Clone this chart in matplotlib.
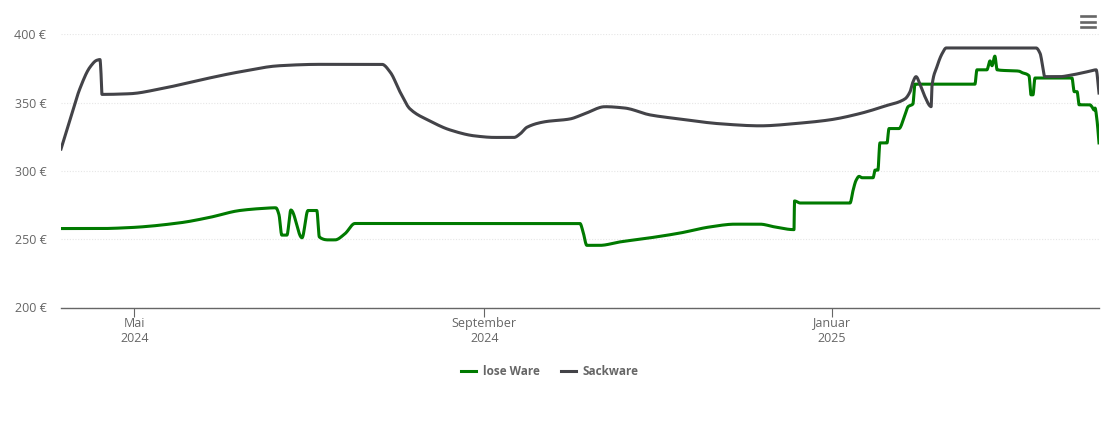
# -*- coding: utf-8 -*-
import numpy as np
import pandas as pd
import matplotlib
matplotlib.use('Agg')
import matplotlib.pyplot as plt
from matplotlib.lines import Line2D

plt.rcParams['font.family'] = ['Open Sans', 'DejaVu Sans']

# days after 2024-05-01
daysLose = [-25.8, -12, -1.6, 16, 26.5, 37, 44.8, 49.7, 50.8, 51.8, 53.6, 55, 58.9, 61, 64.1, 65, 68,
            70.5, 74, 77.5, 156.6, 157.6, 159, 163.6, 170.6, 181.2, 191.7, 202.3, 211, 219.9, 225,
            231.8, 232, 234, 251.5, 252.6, 253.6, 254.7, 255.7, 259.6, 260.3, 261.3, 262, 264.5,
            265.2, 268.7, 270.8, 271.9, 273.6, 274.3, 295.4, 296.1, 299.6, 300.7, 301.4, 302.4,
            303.2, 310.9, 311.9, 314.4, 315.1, 315.8, 316.5, 329.5, 330.3, 331.3, 332, 335.8,
            336.5, 337.3, 337.6, 338.3, 339]
valsLose = [257.8, 257.8, 258.5, 262, 266, 271, 272.5, 273, 268, 253, 253, 271.4, 251, 271, 271, 251.6,
            249.5, 249.5, 254, 261.5, 261.5, 256, 245.5, 245.5, 248, 251, 254.5, 259, 261, 261, 259,
            257, 278, 276.5, 276.5, 286, 293, 296, 295, 295, 300.6, 300.6, 320.5, 320.5,
            331, 331, 341, 347, 349, 363.5, 363.5, 374, 374, 380.5, 377, 384, 374,
            373, 372, 369.6, 355.7, 355.7, 368, 368, 358, 358, 348.4, 348.4,
            347, 344.6, 346, 337, 320.5]

daysSack = [-25.8, -22.7, -19.2, -15.6, -13.2, -12.1, -11.8, -11.4, -1.6, 9, 23, 37, 51, 65, 87, 90, 93.3,
            96.8, 103.9, 110.9, 119.7, 126.7, 133.4, 135.5, 138, 144.3, 153, 158.4, 165.4, 172.4,
            181.2, 191.7, 205.8, 219.9, 234, 244.5, 255, 263.8, 270.8, 272.6, 273.6, 274.7, 276,
            277.9, 279.6, 280, 280.3, 282, 283.9, 285.3, 316.9, 318.3, 320, 325.3, 328.8, 335.8,
            338, 339]
valsSack = [316, 337, 360, 376, 381, 381.5, 374, 356, 356.5, 360, 366.5, 372.5, 377, 378, 378, 372, 358,
            345.5, 336.5, 330, 325.6, 324.5, 324.5, 327, 332, 336, 338, 342, 347, 346,
            341, 338, 334.5, 333, 335, 337.4, 342, 347.5, 352.7, 358, 365, 369, 364,
            354, 347.5, 347, 362, 376, 386, 390, 390, 386, 369, 369, 370, 373,
            374, 357]

seriesNames = ['lose Ware', 'Sackware']
yTicks = [200, 250, 300, 350, 400]
xTicks = ['2024-05-01', '2024-09-01', '2025-01-01']
xLabels = ['Mai\n2024', 'September\n2024', 'Januar\n2025']

start = pd.Timestamp('2024-05-01')


def toDates(days):
    return start + pd.to_timedelta(days, unit='D')


def smooth(x, y, n=12):
    # monotone cubic through the read points, the source chart draws splines
    x = np.asarray(x, dtype=float)
    y = np.asarray(y, dtype=float)
    h = np.diff(x)
    d = np.diff(y)/h
    m = np.zeros(len(x))
    for i in range(1, len(x)-1):
        if d[i-1]*d[i] > 0:
            w1 = 2*h[i]+h[i-1]
            w2 = h[i]+2*h[i-1]
            m[i] = (w1+w2)/(w1/d[i-1]+w2/d[i])
    m[0] = d[0]
    m[-1] = d[-1]
    xs = []
    ys = []
    for i in range(len(h)):
        t = np.linspace(0, 1, n, endpoint=False)
        xs.append(x[i]+t*h[i])
        ys.append((2*t**3-3*t**2+1)*y[i]+(t**3-2*t**2+t)*h[i]*m[i]
                  + (-2*t**3+3*t**2)*y[i+1]+(t**3-t**2)*h[i]*m[i+1])
    return np.append(np.concatenate(xs), x[-1]), np.append(np.concatenate(ys), y[-1])


W, H = 1110, 422
GREEN = '#007a00'
DARK = '#434348'
GREY = '#666666'

fig = plt.figure(figsize=(W/100, H/100), dpi=100)
ax = fig.add_axes([61/W, 1-307.5/H, (1099-61)/W, (307.5-34.3)/H])

xl, yl = smooth(daysLose, valsLose)
xs, ys = smooth(daysSack, valsSack)
ax.plot(toDates(xl), yl, color=GREEN, lw=2.2, solid_joinstyle='round')
ax.plot(toDates(xs), ys, color=DARK, lw=2.2, solid_joinstyle='round')

ax.set_xlim(toDates([-25.8])[0], toDates([339])[0])
ax.set_ylim(200, 400)

ax.set_yticks(yTicks)
ax.set_yticklabels([str(v)+' €' for v in yTicks])
ax.set_xticks(pd.to_datetime(xTicks))
ax.set_xticklabels(xLabels)
ax.tick_params(axis='y', length=0, pad=10.5, labelsize=9, labelcolor=GREY)
ax.tick_params(axis='x', length=6.5, width=0.8, color='#666666', pad=0, labelsize=9, labelcolor=GREY)

ax.grid(axis='y', color='#e6e6e6', lw=0.8, ls=(0, (1, 1.5)))
ax.set_axisbelow(True)
for s in ['top', 'left', 'right']:
    ax.spines[s].set_visible(False)
ax.spines['bottom'].set_color('#666666')
ax.spines['bottom'].set_linewidth(1.0)

handles = [Line2D([], [], color=GREEN, lw=2.2), Line2D([], [], color=DARK, lw=2.2)]
leg = fig.legend(handles, seriesNames, loc='center', bbox_to_anchor=(550/W, 1-371.5/H), ncol=2, frameon=False,
                 prop={'size': 8.5, 'weight': 'bold'}, labelcolor=GREY, handlelength=1.25,
                 handletextpad=0.6, columnspacing=1.75)

# menu icon
for yy in [16, 21.5, 27]:
    fig.add_artist(Line2D([1081/W, 1095/W], [1-yy/H, 1-yy/H], color=GREY, lw=1.9))

fig.savefig('out.png', dpi=100)
